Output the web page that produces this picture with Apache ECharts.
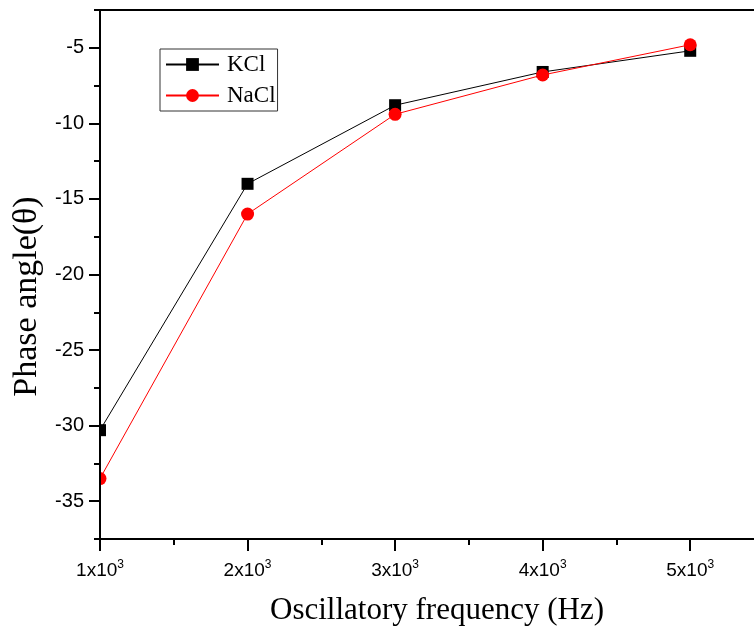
<!DOCTYPE html>
<html>
<head>
<meta charset="utf-8">
<script src="https://cdn.jsdelivr.net/npm/echarts@6/dist/echarts.min.js"></script>
<style>
html, body { margin: 0; padding: 0; background: #fff; }
#chart { width: 754px; height: 633px; }
</style>
</head>
<body>
<div id="chart"></div>
<script>
var freqs = [1000, 2000, 3000, 4000, 5000];
var kcl = [-30.3, -14.0, -8.8, -6.6, -5.2];
var nacl = [-33.5, -16.0, -9.4, -6.8, -4.8];
var yLabels = [-35, -30, -25, -20, -15, -10, -5];
var yMinor = [-37.5, -32.5, -27.5, -22.5, -17.5, -12.5, -7.5, -2.5];

function pairs(xs, ys){
	var out = [];
	for (var i = 0; i < xs.length; i++) {
		out.push([xs[i], ys[i]]);
	}
	return out;
}

var chart = echarts.init(document.getElementById('chart'));

var serif = 'Liberation Serif';
var sans = 'Liberation Sans';

option = {
	backgroundColor: '#fff',
	animation: false,
	grid: {
		left: 100,
		top: 10,
		right: -10,
		bottom: 94,
		containLabel: false,
		outerBoundsMode: 'none',
		show: true,
		borderColor: '#000',
		borderWidth: 2,
		z: 4
	},
	legend: {
		orient: 'vertical',
		left: 160,
		top: 49,
		padding: [4, 2, 4, 5],
		itemGap: 8,
		itemWidth: 53,
		itemHeight: 16,
		borderColor: '#333',
		borderWidth: 1,
		textStyle: {
			fontFamily: serif,
			fontSize: 23,
			color: '#000',
			padding: [0, 0, 0, 3]
		},
		data: ['KCl', 'NaCl']
	},
	xAxis: {
		type: 'value',
		min: 1000,
		max: 5500,
		interval: 1000,
		z: 5,
		name: 'Oscillatory frequency (Hz)',
		nameLocation: 'middle',
		nameGap: 56,
		nameTextStyle: { fontFamily: serif, fontSize: 31, color: '#000', padding: [0, 0, 0, 10] },
		axisLine: { lineStyle: { color: '#000', width: 2 } },
		axisTick: { show: true, inside: false, length: 12, lineStyle: { color: '#000', width: 2 } },
		minorTick: { show: true, splitNumber: 2, length: 6, lineStyle: { color: '#000', width: 2 } },
		splitLine: { show: false },
		axisLabel: {
			margin: 20,
			showMaxLabel: false,
			formatter: function(v){
				return '{b|' + (v / 1000) + 'x10}{s|3}';
			},
			rich: {
				b: { fontFamily: sans, fontSize: 19, color: '#000' },
				s: { fontFamily: sans, fontSize: 12, color: '#000', padding: [0, 0, 12, 0] }
			}
		}
	},
	yAxis: [
		{
			type: 'value',
			min: -37.5,
			max: -2.5,
			z: 5,
			name: 'Phase angle(θ)',
			nameLocation: 'middle',
			nameGap: 50,
			nameTextStyle: { fontFamily: serif, fontSize: 34, color: '#000', padding: [0, 44, 0, 0] },
			axisLine: { show: true, lineStyle: { color: '#000', width: 2 } },
			axisTick: { show: true, length: 11, customValues: yLabels, lineStyle: { color: '#000', width: 2 } },
			axisLabel: { customValues: yLabels, margin: 16, fontFamily: sans, fontSize: 20, color: '#000' },
			splitLine: { show: false }
		},
		{
			type: 'value',
			min: -37.5,
			max: -2.5,
			position: 'left',
			z: 5,
			axisLine: { show: false },
			axisTick: { show: true, length: 6, customValues: yMinor, lineStyle: { color: '#000', width: 2 } },
			axisLabel: { show: false },
			splitLine: { show: false }
		}
	],
	graphic: [
		{
			type: 'rect',
			left: 0,
			top: 0,
			shape: { width: 99, height: 633 },
			style: { fill: '#fff' },
			z: 3
		}
	],
	series: [
		{
			name: 'KCl',
			type: 'line',
			data: pairs(freqs, kcl),
			symbol: 'rect',
			symbolSize: 12,
			clip: false,
			z: 2,
			itemStyle: { color: '#000' },
			lineStyle: { color: '#000', width: 1 }
		},
		{
			name: 'NaCl',
			type: 'line',
			data: pairs(freqs, nacl),
			symbol: 'circle',
			symbolSize: 13,
			clip: false,
			z: 2,
			itemStyle: { color: '#ff0000' },
			lineStyle: { color: '#ff0000', width: 1 }
		}
	]
};

chart.setOption(option);
</script>
</body>
</html>
